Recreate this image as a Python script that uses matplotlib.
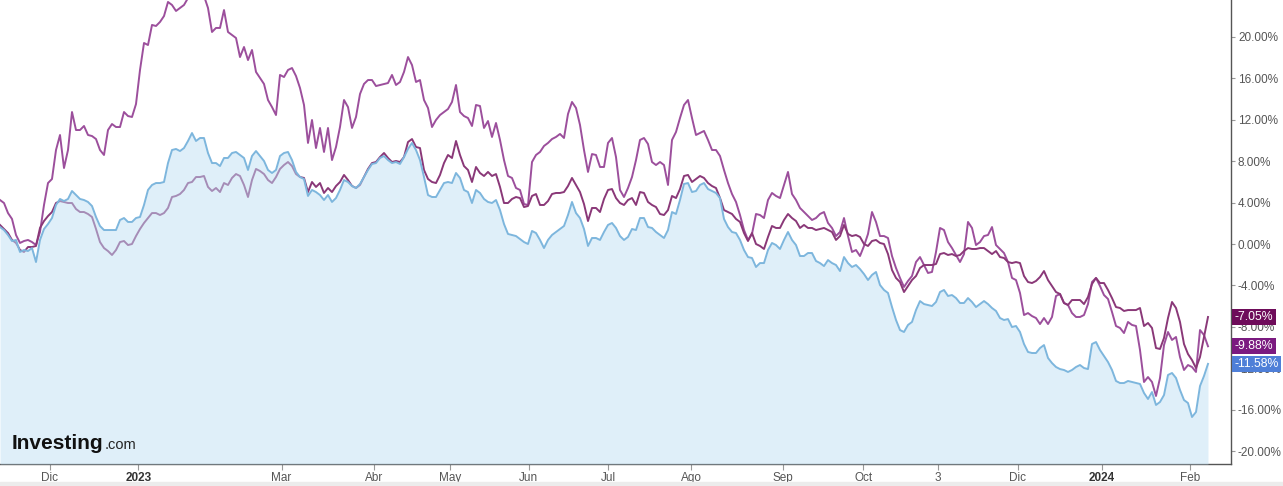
import numpy as np
import matplotlib
matplotlib.use("Agg")
import matplotlib.pyplot as plt

plt.rcParams['font.family'] = ['Liberation Sans', 'DejaVu Sans']

# % change since start, one value per trading session
stock_a = [  # spiky purple, ends -9.88%
    4.25, 3.96, 2.99, 2.42, 0.87, 0.10, 0.29, 0.39, 0.19, -0.10, 1.16, 3.77, 5.89, 6.28, 9.08, 10.53, 7.34, 9.08, 12.75, 11.01, 11.01, 11.40, 10.53, 10.43, 10.14,
    9.08, 8.60, 11.01, 11.59, 11.30, 11.30, 12.75, 12.36, 12.27, 13.52, 16.81, 19.42, 19.22, 21.16, 21.06, 21.45, 22.02, 23.38, 23.09, 22.51, 22.80, 23.09, 23.76, 24.34, 24.05,
    24.54, 23.96, 22.80, 20.48, 20.87, 20.87, 22.60, 20.48, 20.19, 19.90, 18.06, 19.03, 17.77, 18.74, 16.62, 16.04, 15.46, 13.91, 13.23, 12.46, 16.33, 16.13, 16.81, 17.00, 16.23,
    15.07, 13.43, 9.76, 11.98, 9.27, 11.21, 8.89, 11.21, 8.11, 9.37, 11.30, 13.91, 13.23, 11.21, 12.27, 14.49, 15.46, 15.84, 15.84, 15.26, 15.36, 15.46, 15.55, 16.33, 15.36,
    15.65, 16.62, 18.06, 17.29, 15.65, 15.84, 13.91, 13.14, 11.30, 11.98, 12.46, 12.75, 13.04, 13.72, 15.36, 12.75, 12.36, 12.17, 11.40, 13.43, 13.33, 11.21, 11.88, 10.34, 11.69,
    10.05, 8.11, 6.57, 6.38, 5.41, 5.22, 3.86, 3.77, 7.92, 8.60, 8.89, 9.47, 9.76, 10.14, 10.34, 10.63, 10.24, 12.56, 13.72, 13.14, 11.50, 9.08, 6.96, 8.69, 8.60,
    7.44, 7.44, 9.76, 10.24, 8.40, 5.22, 4.54, 5.41, 6.47, 8.11, 10.05, 10.24, 9.66, 7.92, 7.63, 7.92, 7.63, 5.70, 10.05, 10.82, 12.17, 13.43, 13.91, 12.17, 10.53,
    10.72, 10.92, 10.05, 9.08, 9.08, 8.50, 7.15, 5.89, 4.83, 4.06, 2.80, 1.35, 0.39, 0.97, 2.90, 2.80, 2.51, 4.25, 4.93, 4.64, 4.44, 5.70, 6.96, 4.83, 4.25,
    3.48, 3.09, 2.70, 2.32, 2.51, 2.90, 3.09, 2.03, 1.55, 0.77, 1.16, 2.51, 0.77, -0.77, -0.58, -1.16, -0.19, 0.97, 3.09, 2.13, 0.77, 0.77, 0.58, -1.16, -2.32,
    -3.28, -4.15, -3.57, -3.09, -1.74, -1.26, -2.03, -2.80, -2.70, -0.77, 1.55, 1.35, 0.19, -0.39, -1.06, -1.74, -0.97, 2.13, 1.55, -0.10, 0.19, 0.77, 0.87, 1.64, -0.10,
    -0.48, -0.87, -1.74, -3.28, -3.48, -4.73, -6.86, -6.67, -6.96, -7.15, -7.73, -7.15, -7.73, -7.05, -5.02, -4.83, -5.70, -5.89, -6.67, -7.05, -7.05, -6.86, -5.80, -3.67, -3.28,
    -4.06, -4.93, -5.31, -6.57, -7.92, -8.11, -8.60, -7.53, -7.82, -7.92, -10.24, -13.33, -12.85, -13.33, -14.68, -12.94, -9.76, -8.50, -9.27, -8.98, -10.92, -12.17, -11.69, -11.88, -12.36,
    -8.31, -8.79, -9.88,
]
stock_b = [  # darker purple, ends -7.05%
    1.84, 1.45, 1.06, 0.39, 0.10, -0.58, -0.77, -0.29, -0.29, -0.19, 1.55, 2.22, 2.70, 3.09, 3.96, 4.15, 4.06, 3.96, 3.96, 3.38, 3.09, 3.09, 2.90, 2.61, 1.45,
    0.19, -0.39, -0.68, -1.06, -0.58, 0.19, 0.29, -0.10, 0.00, 0.77, 1.45, 2.03, 2.51, 2.99, 2.99, 2.80, 2.99, 3.48, 4.54, 4.64, 4.83, 5.22, 5.89, 5.99, 6.47,
    6.47, 6.57, 5.51, 5.12, 5.41, 5.02, 5.89, 5.70, 6.38, 6.76, 6.57, 5.70, 4.54, 6.18, 7.25, 7.05, 6.76, 6.18, 5.89, 6.47, 7.25, 7.63, 7.92, 7.53, 6.76,
    6.47, 6.38, 5.02, 5.99, 5.51, 5.89, 4.93, 5.41, 5.02, 5.60, 5.99, 6.67, 6.18, 5.60, 5.41, 5.70, 6.47, 7.25, 7.82, 7.92, 8.40, 8.79, 8.31, 7.92, 8.02,
    7.92, 8.40, 9.85, 10.14, 9.37, 9.27, 7.15, 6.28, 5.99, 5.89, 6.67, 7.82, 8.60, 8.31, 9.95, 8.60, 7.53, 7.15, 5.99, 7.44, 6.86, 6.57, 6.96, 6.57, 6.76,
    5.51, 3.96, 3.96, 4.35, 4.54, 4.44, 3.57, 3.67, 4.64, 4.83, 3.77, 3.77, 4.15, 4.83, 4.93, 4.93, 5.02, 5.60, 6.38, 5.70, 5.02, 3.86, 2.22, 3.48, 3.48,
    3.09, 4.35, 5.22, 5.31, 4.44, 3.96, 3.77, 4.25, 4.44, 3.77, 5.02, 4.93, 4.06, 3.77, 3.57, 2.90, 2.80, 3.28, 4.64, 4.44, 5.31, 6.57, 6.67, 5.99, 6.28,
    6.57, 6.38, 5.89, 5.60, 5.41, 4.44, 3.28, 3.09, 2.90, 2.42, 2.13, 1.06, 0.29, 1.06, 0.00, -0.19, -0.48, 0.68, 1.74, 1.55, 1.55, 2.32, 2.90, 2.51, 2.22,
    1.55, 1.84, 1.55, 1.55, 1.35, 1.45, 1.55, 1.35, 1.16, 0.39, 0.77, 1.84, 0.97, 0.77, 0.87, 0.68, 0.00, -0.19, 0.29, 0.39, 0.10, 0.00, -0.97, -2.51, -3.28,
    -3.67, -4.64, -4.06, -3.48, -3.09, -2.32, -2.03, -2.03, -2.03, -1.93, -0.97, -0.87, -1.06, -0.97, -1.16, -1.06, -0.68, -0.39, -0.48, -0.48, -0.39, -0.39, -0.68, -0.97, -0.68,
    -1.26, -1.35, -1.74, -1.84, -1.74, -1.84, -3.09, -3.67, -3.77, -3.57, -3.19, -2.61, -3.48, -4.06, -4.64, -4.83, -5.70, -5.89, -5.41, -5.41, -5.41, -5.80, -5.12, -3.86, -3.28,
    -3.77, -3.77, -4.44, -5.22, -6.09, -6.18, -6.47, -6.38, -6.38, -6.38, -6.18, -7.92, -7.63, -8.11, -10.05, -10.14, -9.08, -7.15, -5.60, -6.18, -7.53, -9.66, -10.63, -11.21, -11.98,
    -10.92, -8.98, -7.05,
]
index_c = [  # light blue area, ends -11.58%
    1.64, 1.35, 0.87, 0.29, 0.39, -0.77, -0.58, -0.68, -0.39, -1.74, 0.39, 1.45, 1.93, 2.51, 3.77, 4.35, 4.15, 4.35, 5.12, 4.73, 4.35, 4.25, 4.06, 3.67, 2.61,
    1.74, 1.35, 1.35, 1.35, 1.35, 2.32, 2.51, 2.13, 2.13, 2.51, 2.61, 3.77, 5.22, 5.70, 5.89, 5.89, 5.99, 7.82, 9.08, 9.18, 8.98, 9.27, 9.95, 10.72, 9.95,
    10.24, 10.24, 8.79, 7.82, 7.82, 7.53, 8.31, 8.31, 8.79, 8.89, 8.60, 8.31, 7.15, 8.50, 8.98, 8.50, 8.02, 7.15, 6.86, 7.15, 8.50, 8.79, 8.89, 8.11, 6.96,
    6.47, 6.28, 4.64, 5.22, 5.02, 4.73, 4.25, 4.73, 4.06, 4.44, 5.22, 6.18, 5.99, 5.60, 5.41, 5.80, 6.47, 7.15, 7.73, 7.82, 8.31, 8.50, 8.11, 7.82, 7.92,
    7.73, 8.40, 9.18, 9.76, 9.08, 8.11, 6.47, 4.73, 4.54, 4.54, 5.22, 5.89, 5.99, 5.89, 6.86, 6.38, 5.22, 5.02, 3.96, 5.22, 4.93, 4.35, 4.06, 3.96, 4.25,
    3.28, 1.93, 0.97, 0.87, 0.77, 0.48, 0.19, 0.00, 1.26, 1.06, 0.39, -0.39, 0.39, 0.87, 1.16, 1.45, 1.74, 2.80, 4.06, 2.99, 2.51, 1.45, -0.19, 0.58, 0.58,
    0.39, 1.16, 1.84, 2.03, 1.55, 0.77, 0.39, 0.68, 1.45, 1.35, 2.51, 2.51, 1.64, 1.55, 1.16, 0.87, 0.58, 1.35, 3.09, 2.90, 4.25, 5.80, 5.89, 5.02, 5.12,
    5.70, 5.89, 5.31, 5.12, 4.93, 4.44, 2.42, 1.64, 1.16, 1.06, 0.39, -0.58, -1.26, -1.35, -2.22, -1.84, -1.84, -0.58, 0.10, -0.10, -0.48, 0.39, 1.16, 0.39, -0.10,
    -1.16, -1.16, -0.87, -0.87, -1.64, -1.84, -2.13, -1.55, -1.84, -2.03, -2.61, -1.26, -1.84, -2.22, -2.03, -2.42, -2.90, -3.48, -2.99, -2.70, -3.96, -4.44, -4.73, -6.09, -7.34,
    -8.31, -8.50, -7.82, -7.53, -6.38, -5.51, -5.80, -5.89, -5.99, -5.60, -4.64, -4.44, -5.02, -4.93, -5.22, -5.70, -5.70, -5.22, -5.60, -6.09, -5.80, -5.51, -5.80, -6.18, -6.47,
    -7.15, -7.34, -7.25, -8.02, -7.92, -8.50, -9.66, -10.43, -10.53, -10.53, -10.05, -9.76, -11.01, -11.50, -11.88, -12.08, -12.17, -12.36, -12.17, -11.88, -11.69, -11.98, -12.08, -9.66, -9.47,
    -10.24, -10.82, -11.40, -12.17, -13.23, -13.43, -13.43, -13.23, -13.33, -13.43, -13.52, -14.39, -14.97, -14.30, -15.55, -15.26, -14.59, -12.65, -12.46, -12.94, -14.10, -15.07, -15.36, -16.71, -16.23,
    -13.72, -12.75, -11.58,
]

# x axis labels (session index of each label)
tick_pos = [12.5, 34.6, 70.4, 93.4, 112.5, 132.2, 152.0, 172.8, 195.8, 215.8, 234.5, 254.5, 275.5, 297.5]
tick_lbl = ['Dic', '2023', 'Mar', 'Abr', 'May', 'Jun', 'Jul', 'Ago', 'Sep', 'Oct', '3', 'Dic', '2024', 'Feb']
y_ticks = list(range(-20, 21, 4))

col_a = '#9c4f9c'
col_b = '#8a3878'
col_c = '#7db6dd'

x = np.arange(len(index_c))
y_lo, y_hi = -21.25, 23.57

fig = plt.figure(figsize=(12.83, 4.86), dpi=100)
ax = fig.add_axes([0, 1 - 464/486, 1231/1283, 464/486])

ax.plot(x, stock_a, color=col_a, lw=1.4, zorder=2)
ax.plot(x, stock_b, color=col_b, lw=1.4, zorder=2)
ax.fill_between(x, index_c, y_lo, color='#c1e1f5', alpha=0.5, lw=0, zorder=3)
ax.plot(x, index_c, color=col_c, lw=1.4, zorder=4)

ax.set_xlim(0, 307.75)
ax.set_ylim(y_lo, y_hi)

for s in ['left', 'top']:
    ax.spines[s].set_visible(False)
for s in ['right', 'bottom']:
    ax.spines[s].set_color('#555555')
    ax.spines[s].set_linewidth(1)

ax.yaxis.tick_right()
ax.set_yticks(y_ticks)
ax.set_yticklabels([f'{v:.2f}%' for v in y_ticks])
ax.tick_params(axis='y', length=3, width=0.8, color='#999999', labelsize=8.5,
               labelcolor='#555555', pad=2)

ax.set_xticks(tick_pos)
ax.set_xticklabels(tick_lbl)
ax.tick_params(axis='x', length=4, width=0.8, color='#999999', labelsize=8.5,
               labelcolor='#555555', pad=2)
for t in ax.get_xticklabels():
    if t.get_text() in ('2023', '2024'):
        t.set_fontweight('bold')
        t.set_color('#333333')

# last value flags on the right axis
trans = ax.get_yaxis_transform()
for vals, bg in [(stock_b, '#6e0c5a'), (stock_a, '#7b1a80'), (index_c, '#4f7fd8')]:
    v = vals[-1]
    ax.text(1.003, v, f'{v:.2f}%', transform=trans, color='white', fontsize=8.8,
            va='center', ha='left', zorder=10, clip_on=False,
            bbox=dict(boxstyle='square,pad=0.18', fc=bg, ec='none'))

# logo
logo = fig.text(12/1283, 1 - 449/486, 'Investing', fontsize=15, fontweight='bold',
                color='#111111', ha='left', va='baseline')
fig.canvas.draw()
bb = logo.get_window_extent(fig.canvas.get_renderer())
fig.text((bb.x1 + 1) / fig.bbox.width, 1 - 449/486, '.com', fontsize=10.5,
         color='#222222', ha='left', va='baseline')

fig.patches.append(plt.Rectangle((0, 0), 1, 4/486, transform=fig.transFigure,
                                 color='#ececec', zorder=0))

fig.savefig('out.png', dpi=100)
